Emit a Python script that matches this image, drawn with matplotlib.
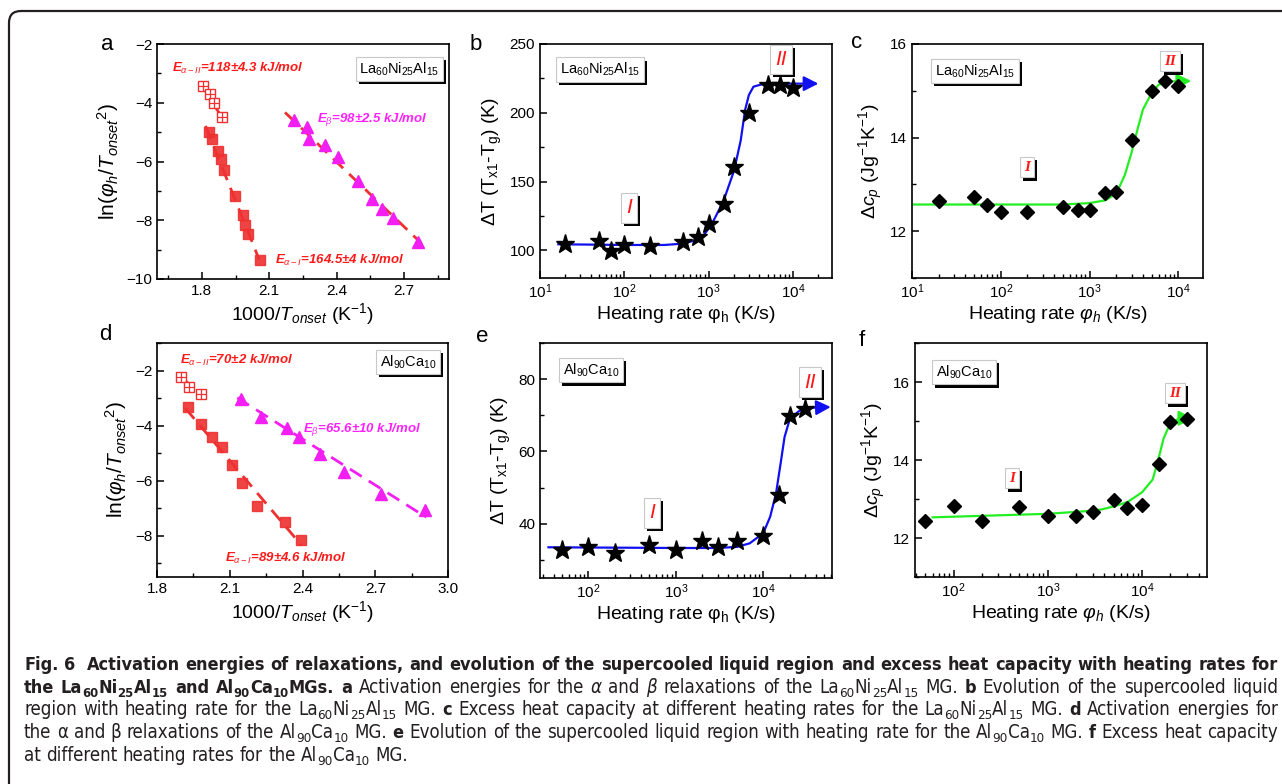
import matplotlib
matplotlib.use("Agg")
import matplotlib.pyplot as plt
import matplotlib.patheffects as pe
import matplotlib.transforms as mtransforms
from matplotlib.patches import FancyBboxPatch
from matplotlib.ticker import MultipleLocator
from matplotlib import font_manager as fm

# ---------------- data ----------------
# a : La60Ni25Al15, ln(phi/T^2) vs 1000/T
a_open_x = [1.804, 1.834, 1.854, 1.890]
a_open_y = [-3.42, -3.71, -4.01, -4.50]
a_fill_x = [1.830, 1.846, 1.870, 1.887, 1.899, 1.946, 1.984, 1.991, 2.003, 2.058]
a_fill_y = [-4.99, -5.24, -5.64, -5.90, -6.30, -7.18, -7.82, -8.17, -8.48, -9.36]
a_tri_x = [2.210, 2.267, 2.275, 2.346, 2.404, 2.494, 2.555, 2.603, 2.652, 2.764]
a_tri_y = [-4.58, -4.81, -5.22, -5.45, -5.83, -6.66, -7.29, -7.60, -7.92, -8.75]
a_fit2_x, a_fit2_y = [1.797, 1.894], [-3.37, -4.56]
a_fit1_x, a_fit1_y = [1.816, 2.055], [-4.79, -9.34]
a_fitb_x, a_fitb_y = [2.170, 2.775], [-4.33, -8.77]

# d : Al90Ca10
d_open_x = [1.897, 1.934, 1.983]
d_open_y = [-2.24, -2.60, -2.84]
d_fill_x = [1.928, 1.983, 2.025, 2.066, 2.109, 2.151, 2.214, 2.327, 2.393]
d_fill_y = [-3.33, -3.96, -4.42, -4.78, -5.43, -6.08, -6.92, -7.52, -8.16]
d_tri_x = [2.145, 2.228, 2.335, 2.386, 2.473, 2.572, 2.724, 2.906]
d_tri_y = [-3.05, -3.67, -4.08, -4.43, -5.04, -5.67, -6.48, -7.06]
d_fit2_x, d_fit2_y = [1.894, 1.986], [-2.20, -2.89]
d_fit1_x, d_fit1_y = [1.917, 2.396], [-3.37, -8.35]
d_fitb_x, d_fitb_y = [2.131, 2.910], [-2.99, -7.33]

# b : supercooled liquid region, La60Ni25Al15
b_rate = [20, 50, 70, 100, 200, 500, 750, 1000, 1500, 2000, 3000, 5000, 7000, 10000]
b_dT = [105, 107, 99.5, 104, 103, 106, 110, 119, 134, 160.5, 200, 220.5, 220.5, 218]
b_fit_x = [16.5, 100, 300, 500, 700, 870, 1000, 1150, 1500, 2000, 2400, 2700, 3000, 3400, 4450, 10000, 20000]
b_fit_y = [104.5, 104, 104, 105, 107.5, 111, 116, 122, 136, 158, 180, 202, 213, 219, 221, 221.2, 221.2]

# c : excess heat capacity, La60Ni25Al15
c_rate = [20, 50, 70, 100, 200, 500, 750, 1000, 1500, 2000, 3000, 5000, 7000, 10000]
c_cp = [12.65, 12.74, 12.56, 12.41, 12.40, 12.52, 12.45, 12.46, 12.81, 12.84, 13.94, 14.99, 15.20, 15.11]
c_fit_x = [10.5, 100, 500, 1000, 1500, 2000, 2500, 3000, 3500, 4000, 5000, 6000, 8000, 14000]
c_fit_y = [12.57, 12.57, 12.57, 12.60, 12.66, 12.80, 13.2, 13.7, 14.2, 14.6, 14.95, 15.13, 15.2, 15.21]

# e : supercooled liquid region, Al90Ca10
e_rate = [50, 100, 200, 500, 1000, 2000, 3000, 5000, 10000, 15000, 20000, 30000]
e_dT = [32.8, 33.7, 31.9, 34.0, 32.8, 35.1, 33.7, 35.1, 36.7, 47.9, 69.7, 71.7]
e_fit_x = [35, 1000, 3000, 5000, 7000, 10000, 12000, 14000, 16000, 17500, 20000, 25000, 30000, 59000]
e_fit_y = [33.5, 33.3, 33.3, 33.6, 34.6, 37.4, 42, 48.5, 57.7, 64, 68.8, 71, 72, 72.3]

# f : excess heat capacity, Al90Ca10
f_rate = [50, 100, 200, 500, 1000, 2000, 3000, 5000, 7000, 10000, 15000, 20000, 30000]
f_cp = [12.44, 12.81, 12.44, 12.79, 12.57, 12.56, 12.66, 12.98, 12.77, 12.85, 13.91, 14.97, 15.05]
f_fit_x = [60, 1000, 3000, 3700, 5000, 7000, 10000, 13000, 15000, 17000, 20000, 25000, 35000]
f_fit_y = [12.53, 12.62, 12.70, 12.73, 12.81, 12.92, 13.17, 13.5, 14.04, 14.56, 14.94, 15.07, 15.07]

# ---------------- styling ----------------
W, H = 1282, 784
RED = "#ee3030"
MAG = "#f21ef2"
BLUE = "#1010f0"
GREEN = "#22ee22"

plt.rcParams.update({
    "font.family": "Liberation Sans",
    "mathtext.fontset": "custom",
    "mathtext.rm": "Liberation Sans",
    "mathtext.it": "Liberation Sans:italic",
    "mathtext.bf": "Liberation Sans:bold",
    "mathtext.bfit": "Liberation Sans:bold:italic",
    "xtick.direction": "in",
    "ytick.direction": "in",
    "xtick.labelsize": 11,
    "ytick.labelsize": 11,
    "axes.linewidth": 1.2,
})

fig = plt.figure(figsize=(W / 100, H / 100), dpi=100)


def add_ax(l, t, r, b):
    # pixel box (top-down) -> figure fraction
    ax = fig.add_axes([l / W, 1 - b / H, (r - l) / W, (b - t) / H])
    ax.tick_params(which="major", length=5, width=1.1, top=False, right=False)
    ax.tick_params(which="minor", length=3, width=1.0, top=False, right=False)
    return ax


def tag(ax, x, y, s, **kw):
    # white box with a black drop shadow
    t = ax.text(x, y, s, transform=ax.transAxes, ha="center", va="center", zorder=6,
                bbox=dict(boxstyle="square,pad=0.25", fc="white", ec="#c8c8c8", lw=0.8), **kw)
    t.get_bbox_patch().set_path_effects(
        [pe.SimplePatchShadow(offset=(2.3, -2.3), shadow_rgbFace="black", alpha=1.0), pe.Normal()])
    return t


def arrow_curve(ax, xs, ys, color):
    ax.plot(xs[:-1], ys[:-1], color=color, lw=1.6, zorder=2)
    ax.annotate("", xy=(xs[-1], ys[-1]), xytext=(xs[-2], ys[-2]),
                arrowprops=dict(arrowstyle="-|>,head_length=0.55,head_width=0.28", color=color,
                                lw=1.6, mutation_scale=16, shrinkA=0, shrinkB=0), zorder=2)


def open_sq(ax, xs, ys):
    ax.plot(xs, ys, "s", ms=7.5, mfc="white", mec=RED, mew=1.0, zorder=4)
    ax.plot(xs, ys, "+", ms=7.5, color=RED, mew=0.9, zorder=5)


def panel_letter(x, y, s):
    fig.text(x / W, 1 - y / H, s, fontsize=16, ha="center", va="center")


ylab_ln = r"ln($\varphi_h/T_{onset}{}^{2}$)"
xlab_T = r"1000/$T_{onset}$ (K$^{-1}$)"
lab_la = r"La$_{60}$Ni$_{25}$Al$_{15}$"
lab_al = r"Al$_{90}$Ca$_{10}$"

# ---------------- panel a ----------------
ax = add_ax(157, 44, 449, 279)
ax.plot(a_fit2_x, a_fit2_y, "--", color=RED, lw=2, dashes=(5, 3))
ax.plot(a_fit1_x, a_fit1_y, "--", color=RED, lw=2, dashes=(5, 3))
ax.plot(a_fitb_x, a_fitb_y, "--", color=RED, lw=2, dashes=(5, 3))
open_sq(ax, a_open_x, a_open_y)
ax.plot(a_fill_x, a_fill_y, "s", ms=7.5, color=RED, alpha=0.9, zorder=4)
ax.plot(a_tri_x, a_tri_y, "^", ms=9, color=MAG, zorder=4)
ax.set_xlim(1.6, 2.9)
ax.set_ylim(-10, -2)
ax.xaxis.set_major_locator(MultipleLocator(0.3))
ax.xaxis.set_minor_locator(MultipleLocator(0.15))
ax.yaxis.set_major_locator(MultipleLocator(2))
ax.yaxis.set_minor_locator(MultipleLocator(1))
ax.set_xticks([1.8, 2.1, 2.4, 2.7])
ax.set_xlabel(xlab_T, fontsize=14, labelpad=2)
ax.set_ylabel(ylab_ln, fontsize=15, labelpad=4)
ekw = dict(transform=ax.transAxes, color="#ff1a1a", fontsize=9.5, fontweight="bold",
           fontstyle="italic", va="center")
ax.text(0.051, 0.898, r"$\mathbfit{E}_{\alpha-II}$=118±4.3 kJ/mol", **ekw)
ax.text(0.404, 0.081, r"$\mathbfit{E}_{\alpha-I}$=164.5±4 kJ/mol", **ekw)
ekw["color"] = "#ff22ff"
ax.text(0.548, 0.677, r"$\mathbfit{E}_{\beta}$=98±2.5 kJ/mol", **ekw)
tag(ax, 0.83, 0.894, lab_la, fontsize=10.5)
panel_letter(107, 45, "a")

# ---------------- panel d ----------------
ax = add_ax(157, 343, 448, 577)
ax.plot(d_fit2_x, d_fit2_y, "--", color=RED, lw=2, dashes=(5, 3))
ax.plot(d_fit1_x, d_fit1_y, "--", color=RED, lw=2, dashes=(5, 3))
ax.plot(d_fitb_x, d_fitb_y, "--", color=MAG, lw=2, dashes=(5, 3))
open_sq(ax, d_open_x, d_open_y)
ax.plot(d_fill_x, d_fill_y, "s", ms=7.5, color=RED, alpha=0.9, zorder=4)
ax.plot(d_tri_x, d_tri_y, "^", ms=9, color=MAG, zorder=4)
ax.set_xlim(1.8, 3.0)
ax.set_ylim(-9.5, -1.0)
ax.xaxis.set_major_locator(MultipleLocator(0.3))
ax.xaxis.set_minor_locator(MultipleLocator(0.15))
ax.yaxis.set_major_locator(MultipleLocator(2))
ax.yaxis.set_minor_locator(MultipleLocator(1))
ax.set_xticks([1.8, 2.1, 2.4, 2.7, 3.0])
ax.set_yticks([-2, -4, -6, -8])
ax.set_xlabel(xlab_T, fontsize=14, labelpad=2)
ax.set_ylabel(ylab_ln, fontsize=15, labelpad=4)
ekw = dict(transform=ax.transAxes, color="#ff1a1a", fontsize=9.5, fontweight="bold",
           fontstyle="italic", va="center")
ax.text(0.079, 0.927, r"$\mathbfit{E}_{\alpha-II}$=70±2 kJ/mol", **ekw)
ax.text(0.234, 0.081, r"$\mathbfit{E}_{\alpha-I}$=89±4.6 kJ/mol", **ekw)
ekw["color"] = "#ff22ff"
ax.text(0.502, 0.632, r"$\mathbfit{E}_{\beta}$=65.6±10 kJ/mol", **ekw)
tag(ax, 0.863, 0.919, lab_al, fontsize=10.5)
panel_letter(105, 335, "d")

# ---------------- panel b ----------------
ax = add_ax(540, 44, 832, 278)
ax.set_xscale("log")
arrow_curve(ax, b_fit_x, b_fit_y, BLUE)
ax.plot(b_rate, b_dT, "*", ms=14, color="black", zorder=4)
ax.set_xlim(10, 2.9e4)
ax.set_ylim(80, 250)
ax.yaxis.set_major_locator(MultipleLocator(50))
ax.yaxis.set_minor_locator(MultipleLocator(25))
ax.set_xlabel(r"Heating rate φ$_\mathrm{h}$ (K/s)", fontsize=14, labelpad=2)
ax.set_ylabel(r"ΔT (T$_\mathrm{x1}$-T$_\mathrm{g}$) (K)", fontsize=14, labelpad=4)
tag(ax, 0.205, 0.89, lab_la, fontsize=10.5)
tag(ax, 0.305, 0.30, "I", fontsize=15, color="#ff1a1a", fontstyle="italic")
tag(ax, 0.825, 0.935, "II", fontsize=15, color="#ff1a1a", fontstyle="italic")
panel_letter(476, 44, "b")

# ---------------- panel e ----------------
ax = add_ax(540, 343, 832, 578)
ax.set_xscale("log")
arrow_curve(ax, e_fit_x, e_fit_y, BLUE)
ax.plot(e_rate, e_dT, "*", ms=14, color="black", zorder=4)
ax.set_xlim(28, 6.1e4)
ax.set_ylim(25, 90)
ax.yaxis.set_major_locator(MultipleLocator(20))
ax.yaxis.set_minor_locator(MultipleLocator(10))
ax.set_yticks([40, 60, 80])
ax.set_xlabel(r"Heating rate φ$_\mathrm{h}$ (K/s)", fontsize=14, labelpad=2)
ax.set_ylabel(r"ΔT (T$_\mathrm{x1}$-T$_\mathrm{g}$) (K)", fontsize=14, labelpad=4)
tag(ax, 0.175, 0.885, lab_al, fontsize=10.5)
tag(ax, 0.384, 0.277, "I", fontsize=15, color="#ff1a1a", fontstyle="italic")
tag(ax, 0.925, 0.834, "II", fontsize=15, color="#ff1a1a", fontstyle="italic")
panel_letter(482, 336, "e")

# ---------------- panel c ----------------
ylab_cp = r"$\mathit{\Delta c_p}$ (Jg$^{-1}$K$^{-1}$)"
xlab_rate_it = r"Heating rate $\varphi_h$ (K/s)"
ax = add_ax(912, 44, 1203, 278)
ax.set_xscale("log")
arrow_curve(ax, c_fit_x, c_fit_y, GREEN)
ax.plot(c_rate, c_cp, "D", ms=7.5, color="black", zorder=4)
ax.set_xlim(10, 1.9e4)
ax.set_ylim(11, 16)
ax.yaxis.set_major_locator(MultipleLocator(2))
ax.yaxis.set_minor_locator(MultipleLocator(1))
ax.set_yticks([12, 14, 16])
ax.set_xlabel(xlab_rate_it, fontsize=14, labelpad=2)
ax.set_ylabel(ylab_cp, fontsize=14, labelpad=4)
tag(ax, 0.216, 0.885, lab_la, fontsize=10.5)
rkw = dict(fontsize=11, color="#ff1a1a", fontstyle="italic", fontweight="bold", family="Liberation Serif")
tag(ax, 0.395, 0.474, "I", **rkw)
tag(ax, 0.887, 0.927, "II", **rkw)
panel_letter(857, 42, "c")

# ---------------- panel f ----------------
ax = add_ax(915, 343, 1207, 577)
ax.set_xscale("log")
arrow_curve(ax, f_fit_x, f_fit_y, GREEN)
ax.plot(f_rate, f_cp, "D", ms=7.5, color="black", zorder=4)
ax.set_xlim(39, 4.9e4)
ax.set_ylim(11, 17)
ax.yaxis.set_major_locator(MultipleLocator(2))
ax.yaxis.set_minor_locator(MultipleLocator(1))
ax.set_yticks([12, 14, 16])
ax.set_xlabel(xlab_rate_it, fontsize=14, labelpad=2)
ax.set_ylabel(ylab_cp, fontsize=14, labelpad=4)
tag(ax, 0.168, 0.876, lab_al, fontsize=10.5)
tag(ax, 0.332, 0.423, "I", **rkw)
tag(ax, 0.890, 0.786, "II", **rkw)
panel_letter(862, 340, "f")

# ---------------- caption ----------------
def _w(v):
    if isinstance(v, (int, float)):
        return v
    return {"normal": 400, "regular": 400, "book": 400, "bold": 700}.get(str(v).lower(), 400)


def pick_caption_font():
    # prefer a condensed sans face (closest to the journal's caption font)
    faces = {}
    for f in fm.fontManager.ttflist:
        st = str(f.stretch)
        if st in ("condensed", "semi-condensed") and f.style == "normal":
            faces.setdefault((f.name, st), set()).add(_w(f.weight))
    good = [k for k, ws in faces.items() if any(w <= 450 for w in ws) and any(w >= 600 for w in ws)]
    for pref in ["Liberation Sans Narrow", "Noto Sans", "Open Sans", "DejaVu Sans", "Roboto", "Lato", "Inter"]:
        for name, st in good:
            if name.startswith(pref):
                return name, st
    if good:
        return good[0]
    return "Lato", "normal"


CAP_FONT, CAP_STRETCH = pick_caption_font()
CAP_COL = "#231f20"
X0, X1 = 24, 1278

cap_lines = [
    [("Fig. 6  Activation energies of relaxations, and evolution of the supercooled liquid region "
      "and excess heat capacity with heating rates for", "b")],
    [("the La", "b"), ("60", "bs"), ("Ni", "b"), ("25", "bs"), ("Al", "b"), ("15", "bs"),
     (" and Al", "b"), ("90", "bs"), ("Ca", "b"), ("10", "bs"), ("MGs. a", "b"),
     (" Activation energies for the ", "r"), ("α", "i"), (" and ", "r"), ("β", "i"),
     (" relaxations of the La", "r"), ("60", "rs"), ("Ni", "r"), ("25", "rs"), ("Al", "r"),
     ("15", "rs"), (" MG. ", "r"), ("b", "b"), (" Evolution of the supercooled liquid", "r")],
    [("region with heating rate for the La", "r"), ("60", "rs"), ("Ni", "r"), ("25", "rs"),
     ("Al", "r"), ("15", "rs"), (" MG. ", "r"), ("c", "b"),
     (" Excess heat capacity at different heating rates for the La", "r"), ("60", "rs"),
     ("Ni", "r"), ("25", "rs"), ("Al", "r"), ("15", "rs"), (" MG. ", "r"), ("d", "b"),
     (" Activation energies for", "r")],
    [("the α and β relaxations of the Al", "r"), ("90", "rs"), ("Ca", "r"), ("10", "rs"),
     (" MG. ", "r"), ("e", "b"),
     (" Evolution of the supercooled liquid region with heating rate for the Al", "r"),
     ("90", "rs"), ("Ca", "r"), ("10", "rs"), (" MG. ", "r"), ("f", "b"),
     (" Excess heat capacity", "r")],
    [("at different heating rates for the Al", "r"), ("90", "rs"), ("Ca", "r"), ("10", "rs"),
     (" MG.", "r")],
]
cap_base = [670, 693, 715, 738, 761]

renderer = fig.canvas.get_renderer()
SIZES = {"r": 10.0, "b": 10.0}


def cprops(kind):
    base = SIZES["b"] if kind.startswith("b") else SIZES["r"]
    return dict(family=CAP_FONT, fontstretch=CAP_STRETCH, color=CAP_COL,
                fontweight="bold" if kind.startswith("b") else "normal",
                fontstyle="italic" if kind == "i" else "normal",
                fontsize=base * 0.72 if kind.endswith("s") else base)


def tw(s, kind):
    t = fig.text(0, 0, s, **cprops(kind))
    w = t.get_window_extent(renderer).width
    t.remove()
    return w


def split_words(runs):
    words = [[]]
    for txt, kind in runs:
        for i, p in enumerate(txt.split(" ")):
            if i > 0:
                words.append([])
            if p:
                words[-1].append((p, kind))
    return words


def space_w():
    return tw("a a", "r") - tw("aa", "r")


def line_width(runs):
    words = split_words(runs)
    return sum(tw(p, k) for w in words for p, k in w) + space_w() * (len(words) - 1)


def draw_line(runs, ybase, justify):
    words = split_words(runs)
    widths = [sum(tw(p, k) for p, k in w) for w in words]
    gap = (X1 - X0 - sum(widths)) / (len(words) - 1) if justify else space_w()
    x = X0
    sub_dy = 0.22 * SIZES["r"] * 100 / 72
    for w, wd in zip(words, widths):
        xx = x
        for p, k in w:
            yy = ybase + (sub_dy if k.endswith("s") else 0)
            fig.text(xx / W, 1 - yy / H, p, ha="left", va="baseline", **cprops(k))
            xx += tw(p, k)
        x += wd + gap


# regular size from a mostly-regular line, bold size from the all-bold first line
SIZES["r"] = 10 * (X1 - X0) * 0.985 / line_width(cap_lines[2])
SIZES["b"] = SIZES["r"]
SIZES["b"] = min(SIZES["r"], SIZES["r"] * (X1 - X0) * 0.99 / line_width(cap_lines[0]))
for i, (runs, yb) in enumerate(zip(cap_lines, cap_base)):
    draw_line(runs, yb, justify=(i < len(cap_lines) - 1))

# ---------------- rounded frame (left and top edges visible, rest runs off the image) ----------------
frame = FancyBboxPatch((9, -40), 1320, H - 11 + 40, boxstyle="round,pad=0,rounding_size=12",
                       transform=mtransforms.IdentityTransform(), fc="none", ec=CAP_COL, lw=1.6)
fig.patches.append(frame)

fig.savefig("out.png", dpi=100)
